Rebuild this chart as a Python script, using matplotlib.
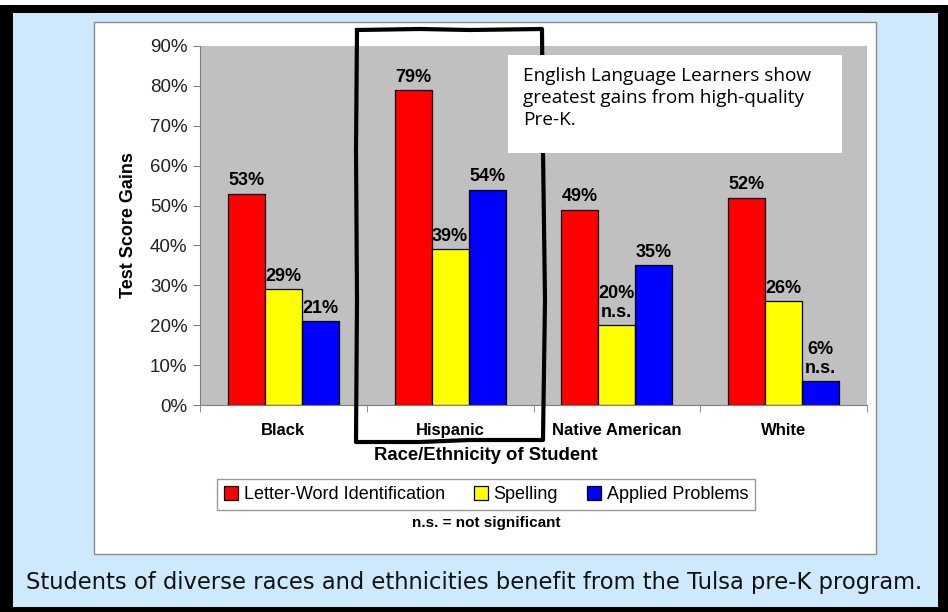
import matplotlib.pyplot as plt
import numpy as np
from matplotlib.patches import Rectangle
from matplotlib.lines import Line2D

# data
groups = ['Black', 'Hispanic', 'Native American', 'White']
series = ['Letter-Word Identification', 'Spelling', 'Applied Problems']
letter_word = [53, 79, 49, 52]
spelling = [29, 39, 20, 26]
applied = [21, 54, 35, 6]
spelling_ns = [False, False, True, False]
applied_ns = [False, False, False, True]
yticks = [0, 10, 20, 30, 40, 50, 60, 70, 80, 90]

colors = ['#ff0000', '#ffff00', '#0000ff']
W, H = 948, 612


def fx(x):
    return x / W


def fy(y):
    return 1 - y / H


plt.rcParams['font.family'] = ['Liberation Sans', 'DejaVu Sans']

fig = plt.figure(figsize=(W / 100, H / 100), dpi=100, facecolor='black')

# light blue slide background and white chart area
fig.add_artist(Rectangle((fx(13), fy(607)), fx(938 - 13), (607 - 13) / H,
                         transform=fig.transFigure, facecolor='#cde9fb',
                         edgecolor='none', zorder=-3))
fig.add_artist(Rectangle((0, fy(5)), 1, 5 / H, transform=fig.transFigure,
                         facecolor='white', edgecolor='none', zorder=-3))
fig.add_artist(Rectangle((fx(94), fy(554)), fx(876 - 94), (554 - 22) / H,
                         transform=fig.transFigure, facecolor='white',
                         edgecolor='#8c8c8c', lw=1, zorder=-2))

ax = fig.add_axes([fx(200), fy(405), fx(667), (405 - 46) / H])
ax.set_facecolor('#c0c0c0')

x = np.arange(len(groups))
w = 0.222
vals = [letter_word, spelling, applied]
flags = [[False] * 4, spelling_ns, applied_ns]
for i, (v, c, name) in enumerate(zip(vals, colors, series)):
    bars = ax.bar(x + (i - 1) * w, v, w, color=c, edgecolor='black',
                  linewidth=0.9, label=name, zorder=2)
    for b, val, ns in zip(bars, v, flags[i]):
        lab = f'{val}%\nn.s.' if ns else f'{val}%'
        ax.annotate(lab, (b.get_x() + b.get_width() / 2, val),
                    xytext=(0, 3), textcoords='offset points',
                    ha='center', va='bottom', fontsize=13,
                    fontweight='bold', linespacing=1.15, zorder=4)

ax.set_xlim(-0.5, len(groups) - 0.5)
ax.set_ylim(0, 90)
ax.set_yticks(yticks)
ax.set_yticklabels([f'{t}%' for t in yticks], fontsize=13.5, color='#222222')
ax.set_xticks(x)
ax.set_xticklabels(groups, fontsize=12, fontweight='bold')
ax.set_xticks(np.arange(len(groups) + 1) - 0.5, minor=True)
ax.tick_params(axis='x', which='major', length=0, pad=13)
ax.tick_params(axis='x', which='minor', length=5, color='#808080')
ax.tick_params(axis='y', length=5, color='#808080', pad=4)
for s in ['top', 'right']:
    ax.spines[s].set_visible(False)
for s in ['left', 'bottom']:
    ax.spines[s].set_color('#808080')

ax.set_ylabel('Test Score Gains', fontsize=13, fontweight='bold', labelpad=9)
fig.text(fx(486), fy(455), 'Race/Ethnicity of Student', ha='center',
         va='center', fontsize=13.3, fontweight='bold')

leg = fig.legend(loc='center', bbox_to_anchor=(fx(486), fy(494.5)), ncol=3,
                 fontsize=13, frameon=True, fancybox=False, edgecolor='#808080',
                 handlelength=0.8, handleheight=0.8, handletextpad=0.3,
                 columnspacing=1.6, borderpad=0.4)
leg.get_frame().set_linewidth(1)

fig.text(fx(486), fy(523), 'n.s. = not significant', ha='center', va='center',
         fontsize=11, fontweight='bold')

# hand-drawn outline around Hispanic
hx = [357, 420, 470, 542, 543, 545, 543, 470, 420, 356, 357, 356, 357]
hy = [30, 29, 30, 29, 150, 300, 440, 440, 442, 442, 300, 150, 30]
fig.add_artist(Line2D([fx(v) for v in hx], [fy(v) for v in hy],
                      transform=fig.transFigure, color='black', lw=3,
                      solid_joinstyle='round', zorder=3))

# call-out box
fig.add_artist(Rectangle((fx(508), fy(153)), fx(842 - 508), (153 - 55) / H,
                         transform=fig.transFigure, facecolor='white',
                         edgecolor='none', zorder=4))
fig.text(fx(523), fy(67), 'English Language Learners show\n'
         'greatest gains from high-quality\nPre-K.', ha='left', va='top',
         fontsize=13.7, family='Open Sans', linespacing=1.27, zorder=5)

fig.text(fx(474), fy(583), 'Students of diverse races and ethnicities benefit '
         'from the Tulsa pre-K program.', ha='center', va='center',
         fontsize=16.3, family='DejaVu Sans', color='#111111')

fig.savefig('out.png', dpi=100, facecolor=fig.get_facecolor())
